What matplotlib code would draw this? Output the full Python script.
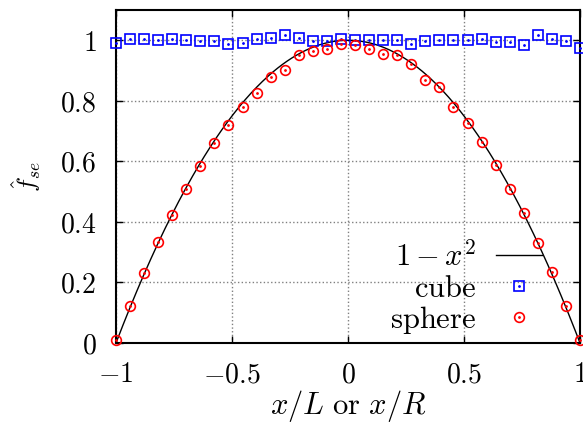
import numpy as np
import matplotlib
matplotlib.use("Agg")
import matplotlib.pyplot as plt

plt.rcParams['mathtext.fontset'] = 'cm'
plt.rcParams['font.family'] = 'serif'
plt.rcParams['font.serif'] = ['DejaVu Serif']

# 数据
n_pts = 34
x_pts = np.linspace(-1, 1, n_pts)
cube = [0.991, 1.003, 1.003, 1.000, 1.003, 1.000, 0.997, 0.996, 0.989, 0.991,
        1.003, 1.009, 1.018, 1.009, 0.997, 0.997, 1.004, 1.000, 1.001, 1.001,
        1.000, 0.989, 0.997, 1.000, 1.000, 1.000, 1.003, 0.993, 0.993, 0.986,
        1.018, 1.004, 0.997, 0.975]
sphere = [0.010, 0.123, 0.231, 0.332, 0.423, 0.508, 0.585, 0.661, 0.719, 0.780,
          0.826, 0.878, 0.903, 0.950, 0.965, 0.971, 0.989, 0.983, 0.970, 0.956,
          0.953, 0.922, 0.869, 0.845, 0.778, 0.728, 0.663, 0.587, 0.508, 0.429,
          0.331, 0.234, 0.121, 0.011]
xticks = [-1, -0.5, 0, 0.5, 1]
xticklabels = ['$-1$', '$-0.5$', '$0$', '$0.5$', '$1$']
yticks = [0, 0.2, 0.4, 0.6, 0.8, 1]
yticklabels = ['$0$', '$0.2$', '$0.4$', '$0.6$', '$0.8$', '$1$']

fs_tick = 20
fs = 22

fig = plt.figure(figsize=(5.83, 4.23), dpi=100)
ax = fig.add_axes([116/583, 80/423, 464/583, 333/423])

xx = np.linspace(-1, 1, 400)
curve, = ax.plot(xx, 1 - xx**2, color='black', lw=1.0)

sq, = ax.plot(x_pts, cube, ls='none', marker='s', ms=7, mfc='none',
              mec='#0000ff', mew=1.2, clip_on=False, zorder=3)
sqd, = ax.plot(x_pts, cube, ls='none', marker='.', ms=2, color='#0000ff',
               clip_on=False, zorder=3)
ci, = ax.plot(x_pts, sphere, ls='none', marker='o', ms=7, mfc='none',
              mec='#ff0000', mew=1.2, clip_on=False, zorder=3)
cid, = ax.plot(x_pts, sphere, ls='none', marker='.', ms=2, color='#ff0000',
               clip_on=False, zorder=3)

ax.set_xlim(-1, 1)
ax.set_ylim(0, 1.1)
ax.set_xticks(xticks)
ax.set_xticklabels(xticklabels, fontsize=fs_tick)
ax.set_yticks(yticks)
ax.set_yticklabels(yticklabels, fontsize=fs_tick)
ax.tick_params(direction='in', length=5, top=True, right=True, width=1)
ax.tick_params(axis='x', pad=13)
ax.tick_params(axis='y', pad=14)
ax.grid(True, ls=':', color='gray', lw=1)
for s in ax.spines.values():
    s.set_linewidth(1.5)

ax.set_xlabel(r'$x/L\ \mathrm{or}\ x/R$', fontsize=fs, labelpad=0)
ax.set_ylabel(r'$\hat{f}_{se}$', fontsize=18, labelpad=12)

leg = ax.legend([curve, (sq, sqd), (ci, cid)],
                ['$1-x^2$', r'$\mathrm{cube}$', r'$\mathrm{sphere}$'],
                loc='lower right', bbox_to_anchor=(0.918, 0.021),
                markerfirst=False, frameon=False, fontsize=fs,
                handlelength=1.5, handletextpad=0.65, labelspacing=0.0,
                borderaxespad=0.0, borderpad=0.0)

fig.savefig('out.png', dpi=100)
